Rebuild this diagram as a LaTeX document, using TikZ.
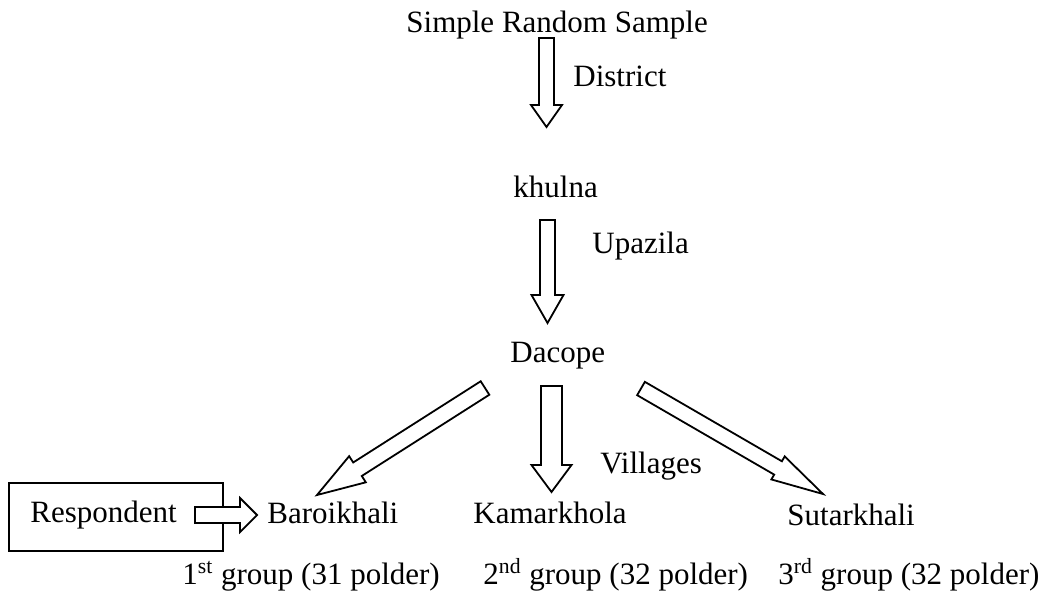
\documentclass[tikz,border=0pt]{standalone}
\usepackage{fontspec}
\setmainfont{Liberation Serif}
\usetikzlibrary{calc}
\tikzset{
  lbl/.style={inner sep=0pt, anchor=base west, font=\fontsize{15.5}{18}\selectfont},
  blk/.style={draw=black, fill=white, line width=0.9pt, line join=miter},
}
\newcommand\blockarr[5]{%
  \coordinate (bah) at ($(#2)!#5!(#1)$);
  \draw[blk] ($(#1)!#3!90:(#2)$) -- ($(bah)!#3!90:(#2)$) -- ($(bah)!#4!90:(#2)$) -- (#2)
    -- ($(bah)!#4!-90:(#2)$) -- ($(bah)!#3!-90:(#2)$) -- ($(#1)!#3!-90:(#2)$) -- cycle;
}
\begin{document}
\begin{tikzpicture}[x=0.5pt,y=-0.5pt]
\useasboundingbox (0,0) rectangle (1052,596);
% text nodes
\node[lbl] (srs) at (406,32) {Simple Random Sample};
\node[lbl] (district) at (573,86) {District};
\node[lbl] (khulna) at (513,197) {khulna};
\node[lbl] (upazila) at (592,253) {Upazila};
\node[lbl] (dacope) at (510,362) {Dacope};
\node[lbl] (villages) at (600,473) {Villages};
\node[lbl] (baroi) at (267,523) {Baroikhali};
\node[lbl] (kamar) at (473,523) {Kamarkhola};
\node[lbl] (sutar) at (787,525) {Sutarkhali};
\node[lbl] (g1) at (182,584) {1\textsuperscript{st} group (31 polder)};
\node[lbl] (g2) at (483,584) {2\textsuperscript{nd} group (32 polder)};
\node[lbl] (g3) at (778,584) {3\textsuperscript{rd} group (32 polder)};
% respondent box
\node[draw, line width=0.9pt, anchor=north west, minimum width=107pt, minimum height=34pt, inner sep=0pt] (box) at (8,482) {};
\node[lbl] (resp) at (30,522) {Respondent};
% arrow end points
\coordinate (a1s) at (546.5,38);  \coordinate (a1e) at (546.5,127);
\coordinate (a2s) at (547.5,220); \coordinate (a2e) at (547.5,323);
\coordinate (a3s) at (551.5,386); \coordinate (a3e) at (551.5,492);
\coordinate (a4s) at (485,388);   \coordinate (a4e) at (317,495);
\coordinate (a5s) at (641,388.5); \coordinate (a5e) at (823,494);
\coordinate (a6s) at (195,515);   \coordinate (a6e) at (257,515);
\blockarr{a1s}{a1e}{3.75pt}{7.75pt}{11pt}
\blockarr{a2s}{a2e}{3.75pt}{8pt}{14pt}
\blockarr{a3s}{a3e}{5.25pt}{10pt}{13.5pt}
\blockarr{a4s}{a4e}{4pt}{7.75pt}{24pt}
\blockarr{a5s}{a5e}{3.85pt}{6.65pt}{26pt}
\blockarr{a6s}{a6e}{4pt}{8.5pt}{8.5pt}
\end{tikzpicture}
\end{document}
